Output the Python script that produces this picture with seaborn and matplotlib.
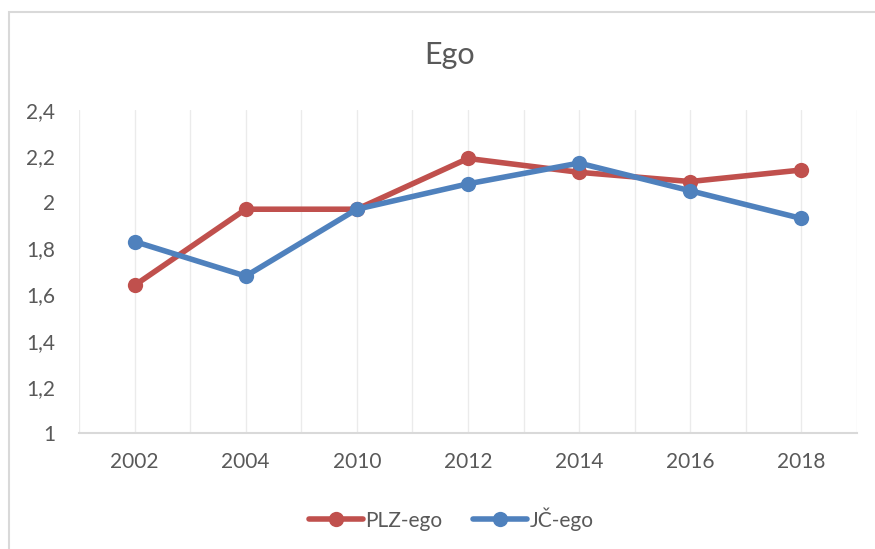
import pandas as pd
import matplotlib.pyplot as plt
import seaborn as sns
from matplotlib.patches import Rectangle
from matplotlib.ticker import MultipleLocator, FuncFormatter

years = ['2002', '2004', '2010', '2012', '2014', '2016', '2018']
plz_ego = [1.64, 1.97, 1.97, 2.19, 2.13, 2.09, 2.14]
jc_ego = [1.83, 1.68, 1.97, 2.08, 2.17, 2.05, 1.93]
series_names = ['PLZ-ego', 'JČ-ego']

sns.set_theme(style='white')
plt.rcParams['font.family'] = ['Lato', 'DejaVu Sans']

df = pd.DataFrame({
    'Year': years * 2,
    'Value': plz_ego + jc_ego,
    'Series': [series_names[0]] * len(years) + [series_names[1]] * len(years),
})
df['pos'] = df['Year'].map({y: i for i, y in enumerate(years)})

palette = {'PLZ-ego': '#C0504D', 'JČ-ego': '#4F81BD'}

fig = plt.figure(figsize=(8.75, 5.49), dpi=100)
ax = fig.add_axes([0.0903, 0.2113, 0.8891, 0.5883])

# chart area border (Excel look)
fig.patches.append(Rectangle((8.5 / 875, -0.1), 1.2, 1.1 - 11.5 / 549,
                             transform=fig.transFigure, fill=False,
                             edgecolor='#D9D9D9', linewidth=1.5))

sns.lineplot(data=df, x='pos', y='Value', hue='Series', palette=palette,
             marker='o', markersize=11, markeredgewidth=0, linewidth=4,
             ax=ax, legend=True)

ax.set_xlim(-0.5, len(years) - 0.5)
ax.set_ylim(1, 2.4)
ax.set_xticks(range(len(years)))
ax.set_xticklabels(years)
ax.xaxis.set_minor_locator(MultipleLocator(1, offset=0.5))
ax.yaxis.set_major_locator(MultipleLocator(0.2))
ax.yaxis.set_major_formatter(FuncFormatter(lambda v, p: f'{v:.1f}'.rstrip('0').rstrip('.').replace('.', ',')))

ax.grid(True, axis='x', which='both', color='#EBEBEB', linewidth=1)
ax.grid(False, axis='y')
for s in ['top', 'left', 'right']:
    ax.spines[s].set_visible(False)
ax.spines['bottom'].set_color('#D9D9D9')
ax.spines['bottom'].set_linewidth(1.5)
ax.tick_params(axis='both', which='both', length=0, labelsize=15, colors='#595959')
ax.tick_params(axis='x', pad=14)
ax.tick_params(axis='y', pad=17)
ax.set_xlabel('')
ax.set_ylabel('')

fig.text(0.514, 1 - 55 / 549, 'Ego', ha='center', va='center', fontsize=22, color='#595959')

handles, labels = ax.get_legend_handles_labels()
ax.legend(handles, labels, loc='center', bbox_to_anchor=(451 / 875, 1 - 519 / 549),
          bbox_transform=fig.transFigure, ncol=2, frameon=False, fontsize=15,
          handlelength=2.6, columnspacing=1.5, handletextpad=0.1,
          labelcolor='#595959')

plt.savefig('out.png', dpi=100)
